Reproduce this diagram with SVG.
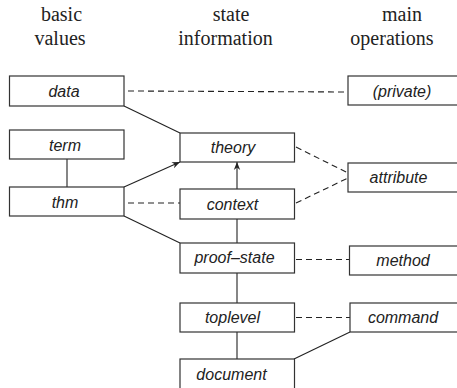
<svg xmlns="http://www.w3.org/2000/svg" width="457" height="388" viewBox="0 0 457 388">
<style>
.box{fill:#fff;stroke:#333;stroke-width:1.2}
.lbl{font-family:"Liberation Sans",Arial,sans-serif;font-style:italic;font-size:16px;fill:#222;text-anchor:middle}
.hdr{font-family:"Liberation Serif","Times New Roman",serif;font-size:20px;fill:#222;text-anchor:middle}
.solid{stroke:#222;stroke-width:1.1;fill:none}
.dash{stroke:#222;stroke-width:1.1;fill:none;stroke-dasharray:6,4}
</style>
<defs>
<marker id="arr" viewBox="0 0 10 10" refX="10" refY="5" markerWidth="8" markerHeight="8" markerUnits="userSpaceOnUse" orient="auto">
<path d="M0,1 L10,5 L0,9 L3,5 Z" fill="#222"/>
</marker>
</defs>
<rect width="457" height="388" fill="#fff"/>
<g id="headers">
<text class="hdr" x="61.5" y="21">basic</text>
<text class="hdr" x="60" y="45">values</text>
<text class="hdr" x="231" y="21">state</text>
<text class="hdr" x="225.5" y="45">information</text>
<text class="hdr" x="402" y="21">main</text>
<text class="hdr" x="392" y="45">operations</text>
</g>
<g id="connectors">
<line class="solid" x1="124" y1="106" x2="180" y2="133"/>
<line class="solid" x1="67" y1="159" x2="67" y2="187"/>
<line class="solid" x1="124" y1="187" x2="180" y2="162" marker-end="url(#arr)"/>
<line class="solid" x1="124" y1="216" x2="180" y2="243"/>
<line class="solid" x1="237" y1="189" x2="237" y2="162" marker-end="url(#arr)"/>
<line class="solid" x1="237" y1="219" x2="237" y2="243"/>
<line class="solid" x1="237" y1="273" x2="237" y2="303"/>
<line class="solid" x1="237" y1="332" x2="237" y2="359"/>
<line class="solid" x1="350" y1="332" x2="294" y2="359"/>
<line class="dash" x1="128" y1="91" x2="348" y2="92"/>
<line class="dash" x1="128" y1="203" x2="180" y2="203"/>
<line class="dash" x1="296" y1="147" x2="348" y2="173"/>
<line class="dash" x1="296" y1="203" x2="348" y2="178"/>
<line class="dash" x1="296" y1="259.5" x2="349" y2="259.5"/>
<line class="dash" x1="296" y1="317.5" x2="350" y2="317.5"/>
</g>
<g id="data"><rect class="box" x="9.5" y="76" width="114.5" height="30"/><text class="lbl" x="64" y="97">data</text></g>
<g id="term"><rect class="box" x="9.5" y="130" width="114.5" height="29"/><text class="lbl" x="65" y="150.5">term</text></g>
<g id="thm"><rect class="box" x="9.5" y="187" width="114.5" height="29"/><text class="lbl" x="65" y="207.5">thm</text></g>
<g id="theory"><rect class="box" x="180" y="133" width="114.5" height="29"/><text class="lbl" x="233" y="153">theory</text></g>
<g id="context"><rect class="box" x="180" y="189" width="114.5" height="30"/><text class="lbl" x="232.5" y="209.5">context</text></g>
<g id="proof-state"><rect class="box" x="180" y="243" width="114.5" height="30"/><text class="lbl" x="234.5" y="263">proof–state</text></g>
<g id="toplevel"><rect class="box" x="180" y="303" width="114.5" height="29"/><text class="lbl" x="232.5" y="322.5">toplevel</text></g>
<g id="document"><rect class="box" x="180" y="359" width="114.5" height="40"/><text class="lbl" x="231.5" y="380">document</text></g>
<g id="private"><rect class="box" x="348" y="76" width="130" height="29"/><text class="lbl" x="402" y="96.5">(private)</text></g>
<g id="attribute"><rect class="box" x="348" y="163" width="130" height="29"/><text class="lbl" x="398.5" y="183">attribute</text></g>
<g id="method"><rect class="box" x="349.5" y="246" width="130" height="29"/><text class="lbl" x="403" y="266">method</text></g>
<g id="command"><rect class="box" x="350" y="303" width="130" height="29"/><text class="lbl" x="403" y="323">command</text></g>
</svg>
